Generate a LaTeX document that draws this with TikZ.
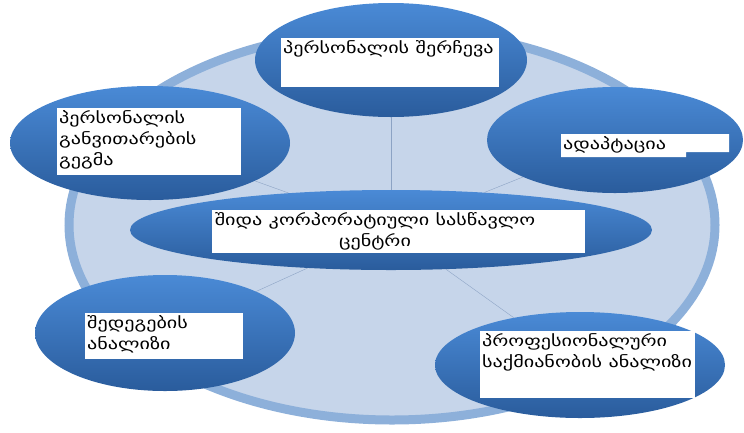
\documentclass[tikz,border=0pt]{standalone}
\usepackage{fontspec}
\setmainfont{DejaVu Sans}[FakeStretch=1.3]
\usetikzlibrary{shapes.geometric}
\definecolor{ringfill}{HTML}{C6D5EA}
\definecolor{ringedge}{HTML}{8DB0DA}
\definecolor{blobtop}{HTML}{4A8AD6}
\definecolor{blobmid}{HTML}{3B78C5}
\definecolor{blobbot}{HTML}{2A5C9C}
\definecolor{spoke}{HTML}{8CA3C4}

\begin{document}
\begin{tikzpicture}[x=1pt,y=-1pt,
  blob/.style={ellipse,inner sep=0pt,top color=blobtop,middle color=blobmid,bottom color=blobbot},
  lbl/.style={anchor=north west,inner sep=2pt,align=left,font=\fontsize{15.5}{21}\selectfont},
  box/.style={fill=white}]
  \useasboundingbox (0,0) rectangle (744,432);

  % Background disc
  \draw[line width=9pt,ringedge,fill=ringfill] (392,225) ellipse [x radius=323,y radius=195];

  % Hub and the five stages round it
  \node[blob,minimum width=522pt,minimum height=80pt] (hub) at (391,230) {};
  \node[blob,minimum width=272pt,minimum height=114pt] (sel) at (391,60) {};
  \node[blob,minimum width=280pt,minimum height=114pt] (plan) at (150,143) {};
  \node[blob,minimum width=256pt,minimum height=106pt] (adapt) at (615,140) {};
  \node[blob,minimum width=260pt,minimum height=116pt] (res) at (165,333) {};
  \node[blob,minimum width=290pt,minimum height=106pt] (prof) at (580,365) {};

  % Spokes
  \foreach \s in {sel,plan,adapt,res,prof}
    \draw[spoke] (hub) -- (\s);

  % White text boxes
  \fill[box] (212,210) rectangle (585,253);
  \node[lbl,anchor=north,align=center] (hubt) at (375,210) {შიდა კორპორატიული სასწავლო\\ცენტრი};

  \fill[box] (281,38) rectangle (499,87);
  \node[lbl] (selt) at (281,38) {პერსონალის შერჩევა};

  \fill[box] (57,108) rectangle (241,175);
  \node[lbl] (plant) at (57,108) {პერსონალის\\განვითარების\\გეგმა};

  \fill[box] (561,134) -- (729,134) -- (729,152) -- (686,152) -- (686,157) -- (561,157) -- cycle;
  \node[lbl] (adaptt) at (561,134) {ადაპტაცია};

  \fill[box] (85,313) rectangle (243,359);
  \node[lbl] (rest) at (85,313) {შედეგების\\ანალიზი};

  \fill[box] (480,331) rectangle (695,398);
  \node[lbl] (proft) at (480,331) {პროფესიონალური\\საქმიანობის ანალიზი};
\end{tikzpicture}
\end{document}
